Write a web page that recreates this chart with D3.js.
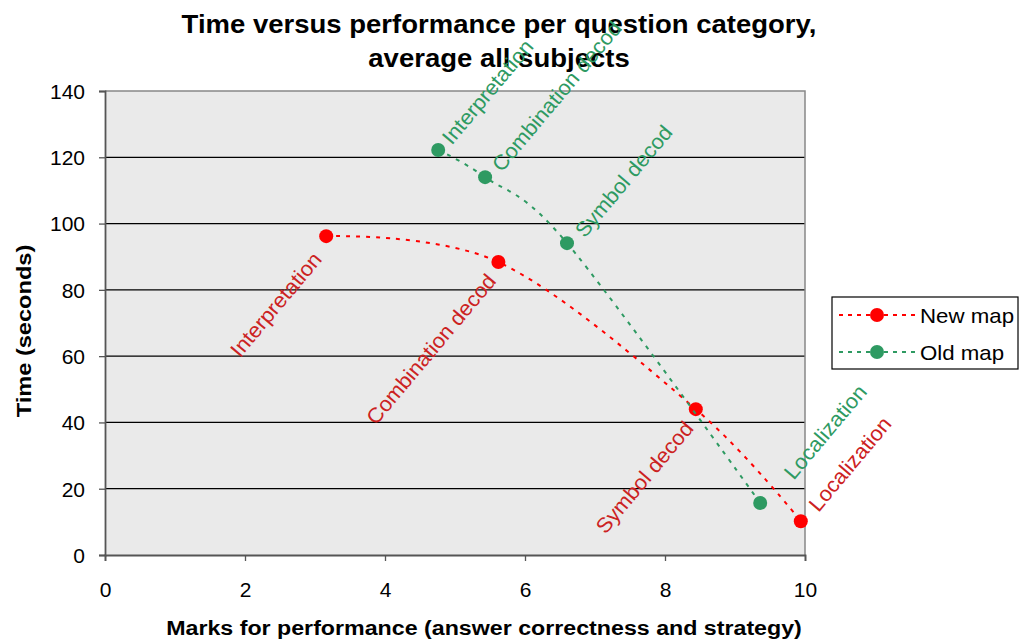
<!DOCTYPE html>
<html>
<head>
<meta charset="utf-8">
<script src="https://cdn.jsdelivr.net/npm/d3@7"></script>
<style>
  html, body { margin: 0; padding: 0; background: #fff; }
  svg { display: block; font-family: "Liberation Sans", Arial, sans-serif; }
</style>
</head>
<body>
<svg id="chart" width="1024" height="642"></svg>
<script>
// ---- data ----
const categories = ["Interpretation", "Combination decod", "Symbol decod", "Localization"];
const newMapMarks = [3.16, 5.62, 8.44, 9.94];
const newMapTime  = [96.2, 88.4, 44.0, 10.2];
const oldMapMarks = [4.76, 5.43, 6.60, 9.36];
const oldMapTime  = [122.2, 114.0, 94.1, 15.7];
const seriesNames = ["New map", "Old map"];
const xTicks = [0, 2, 4, 6, 8, 10];
const yTicks = [0, 20, 40, 60, 80, 100, 120, 140];

// ---- layout ----
const svg = d3.select("#chart");
const L = 105, R = 805, T = 91, B = 555;
const x = d3.scaleLinear().domain([0, 10]).range([L, R]);
const y = d3.scaleLinear().domain([0, 140]).range([B, T]);

const colors = { "New map": "#ff0000", "Old map": "#2e9a62" };
const textColors = { "New map": "#cc2222", "Old map": "#2e9a62" };

// widen text horizontally (reference glyphs are wider than Liberation Sans)
function stretch(sel, k) {
  sel.each(function () {
    const len = this.getComputedTextLength();
    d3.select(this).attr("textLength", len * k).attr("lengthAdjust", "spacingAndGlyphs");
  });
}

// plot background
svg.append("rect").attr("x", L).attr("y", T).attr("width", R - L).attr("height", B - T)
  .attr("fill", "#eaeaea");

// gridlines
svg.append("g").selectAll("line").data(yTicks.filter(d => d > 0 && d < 140)).join("line")
  .attr("x1", L).attr("x2", R).attr("y1", d => y(d)).attr("y2", d => y(d))
  .attr("stroke", "#000").attr("stroke-width", 1.2);

// top & right border
svg.append("path").attr("d", `M${L},${T}H${R}V${B}`).attr("fill", "none")
  .attr("stroke", "#888").attr("stroke-width", 1.5);

// axes
const yAxis = d3.axisLeft(y).tickValues(yTicks).tickSize(6).tickPadding(14);
const gy = svg.append("g").attr("transform", `translate(${L},0)`).call(yAxis);
const xAxis = d3.axisBottom(x).tickValues(xTicks).tickSize(6).tickPadding(21);
const gx = svg.append("g").attr("transform", `translate(0,${B})`).call(xAxis);
[gx, gy].forEach(g => {
  g.select(".domain").attr("stroke", "#555").attr("stroke-width", 1.8);
  g.selectAll(".tick line").attr("stroke", "#555").attr("stroke-width", 1.3);
  g.selectAll(".tick text").attr("font-size", 21).attr("fill", "#000")
    .attr("font-family", "Liberation Sans, Arial, sans-serif");
});
gx.selectAll(".tick text").attr("dy", "0.71em");
gy.selectAll(".tick text").attr("dy", "0.35em");

// titles
const title = svg.append("text").attr("text-anchor", "middle")
  .attr("font-size", 25).attr("font-weight", "bold").attr("fill", "#000");
const t1 = title.append("tspan").attr("x", 499).attr("y", 33).text("Time versus performance per question category,");
const t2 = title.append("tspan").attr("x", 499).attr("y", 67).text("average all subjects");
[t1, t2].forEach(t => {
  const len = t.node().getComputedTextLength();
  t.attr("textLength", len * 1.1).attr("lengthAdjust", "spacingAndGlyphs");
});

svg.append("text").attr("x", 484).attr("y", 635).attr("text-anchor", "middle")
  .attr("font-size", 20).attr("font-weight", "bold")
  .text("Marks for performance (answer correctness and strategy)")
  .call(stretch, 1.16);

svg.append("text").attr("transform", `translate(31,${(T + B) / 2 + 8}) rotate(-90)`)
  .attr("text-anchor", "middle").attr("font-size", 20).attr("font-weight", "bold")
  .text("Time (seconds)")
  .call(stretch, 1.18);

// series
const series = [
  { name: seriesNames[0], xs: newMapMarks, ys: newMapTime },
  { name: seriesNames[1], xs: oldMapMarks, ys: oldMapTime }
];
// label placement: side (+1 above-right, -1 below-left) and pixel offsets
const labelSide = {
  "New map": [-1, -1, -1, 1],
  "Old map": [1, 1, 1, 1]
};
const labelOffset = {
  "New map": [[-9, 19], [-7, 15], [-7, 15], [12, -13]],
  "Old map": [[8, -9], [11, -9], [12, -9], [28, -27]]
};

const line = d3.line().x(d => x(d[0])).y(d => y(d[1])).curve(d3.curveCardinal.tension(0));

series.forEach(s => {
  const pts = s.xs.map((v, i) => [v, s.ys[i]]);
  svg.append("path").attr("d", line(pts)).attr("fill", "none")
    .attr("stroke", colors[s.name]).attr("stroke-width", 2)
    .attr("stroke-dasharray", "4,6");
  svg.append("g").selectAll("circle").data(pts).join("circle")
    .attr("cx", d => x(d[0])).attr("cy", d => y(d[1])).attr("r", 7)
    .attr("fill", colors[s.name]);
  svg.append("g").selectAll("text").data(pts).join("text")
    .attr("transform", (d, i) => {
      const o = labelOffset[s.name][i];
      return `translate(${x(d[0]) + o[0]},${y(d[1]) + o[1]}) rotate(-50)`;
    })
    .attr("text-anchor", (d, i) => labelSide[s.name][i] > 0 ? "start" : "end")
    .attr("dy", "0.35em")
    .attr("font-size", 21)
    .attr("fill", textColors[s.name])
    .text((d, i) => categories[i])
    .call(stretch, 1.04);
});

// legend
const lg = svg.append("g");
lg.append("rect").attr("x", 832).attr("y", 297).attr("width", 186).attr("height", 72)
  .attr("fill", "#fff").attr("stroke", "#000").attr("stroke-width", 1.2);
seriesNames.forEach((name, i) => {
  const cy = 315 + i * 37;
  lg.append("line").attr("x1", 839).attr("x2", 916).attr("y1", cy).attr("y2", cy)
    .attr("stroke", colors[name]).attr("stroke-width", 2).attr("stroke-dasharray", "4,5");
  lg.append("circle").attr("cx", 877).attr("cy", cy).attr("r", 7).attr("fill", colors[name]);
  lg.append("text").attr("x", 920).attr("y", cy).attr("dy", "0.36em")
    .attr("font-size", 21).attr("fill", "#000").text(name)
    .call(stretch, 1.06);
});
</script>
</body>
</html>
